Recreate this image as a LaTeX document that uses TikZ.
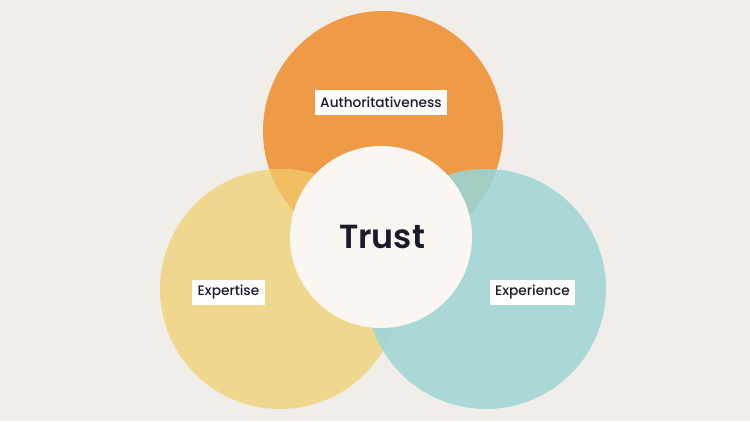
\documentclass[tikz,border=0pt]{standalone}
\usepackage{fontspec}
\setmainfont{Poppins}
\newfontfamily\medfont{Poppins Medium}
\newfontfamily\semifont{Poppins SemiBold}
\definecolor{bg}{HTML}{F1EEEA}
\definecolor{orng}{HTML}{EF9A45}
\definecolor{yllw}{HTML}{F0D78E}
\definecolor{teal2}{HTML}{A9D8D6}
\definecolor{oy}{HTML}{F2BE62}
\definecolor{ot}{HTML}{A3CCC3}
\definecolor{yt}{HTML}{A8D5CF}
\definecolor{ctr}{HTML}{FBF6F1}
\definecolor{ink}{HTML}{1C1B2E}
\tikzset{
  lbl/.style={fill=white, text=ink, font=\medfont\fontsize{7.8}{9}\selectfont, inner xsep=3pt, minimum height=0.5cm},
}
\begin{document}
\begin{tikzpicture}
\fill[bg] (0,0) rectangle (15,8.42);
\useasboundingbox (0,0) rectangle (15,8.42);
\coordinate (O) at (7.66,5.8);
\coordinate (Y) at (5.6,2.64);
\coordinate (T) at (9.72,2.64);
\fill[orng] (O) circle (2.4);
\fill[yllw] (Y) circle (2.4);
\fill[teal2] (T) circle (2.4);
\begin{scope}
\clip (O) circle (2.4);
\fill[oy] (Y) circle (2.4);
\fill[ot] (T) circle (2.4);
\end{scope}
\begin{scope}
\clip (Y) circle (2.4);
\fill[yt] (T) circle (2.4);
\end{scope}
\node[circle, fill=ctr, minimum size=3.64cm, inner sep=0pt] (trust) at (7.62,3.68) {};
\node[text=ink, font=\semifont\fontsize{19}{22}\selectfont] (trustlbl) at (7.64,3.69) {Trust};
\node[lbl] (auth) at (7.62,6.37) {Authoritativeness};
\node[lbl] (expt) at (4.57,2.57) {Expertise};
\node[lbl] (expr) at (10.65,2.57) {Experience};
\end{tikzpicture}
\end{document}
